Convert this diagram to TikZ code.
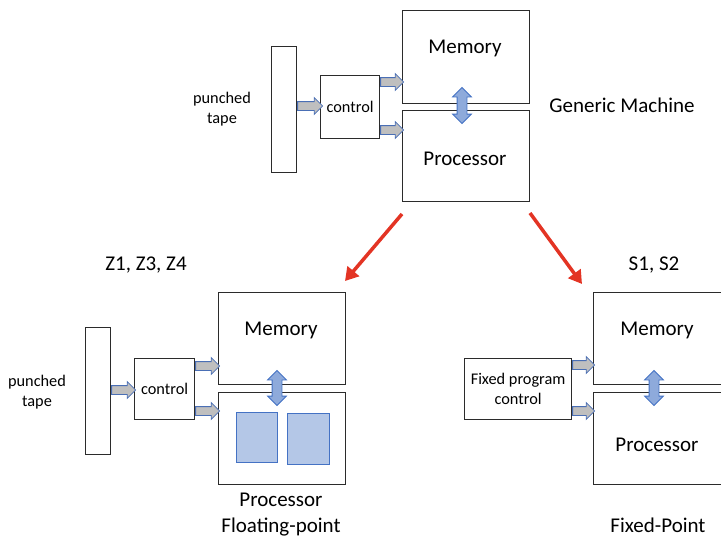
\documentclass[tikz,border=0pt]{standalone}
\usepackage{fontspec}
\setmainfont{Carlito}
\usetikzlibrary{shapes.arrows,arrows.meta}
\definecolor{boxline}{HTML}{2B2B2B}
\definecolor{arrowedge}{HTML}{4A6FB5}
\definecolor{arrowgray}{HTML}{BFBFBF}
\definecolor{dblfill}{HTML}{8EAADB}
\definecolor{dbledge}{HTML}{4472C4}
\definecolor{rectfill}{HTML}{B4C7E7}
\definecolor{redline}{HTML}{E33424}
\begin{document}
\begin{tikzpicture}[x=1pt,y=-1pt,
  box/.style={draw=boxline,line width=1.2pt,inner sep=0pt,anchor=north west},
  big/.style={font=\fontsize{21}{26}\selectfont,align=center,inner sep=0pt},
  small/.style={font=\fontsize{16.3}{20}\selectfont,align=center,inner sep=0pt},
  garrow/.style={single arrow,draw=arrowedge,fill=arrowgray,line width=0.8pt,
    single arrow head extend=4pt,inner xsep=0pt,inner ysep=4pt,anchor=tail,
    single arrow tip angle=90},
  darrow/.style={double arrow,draw=dbledge,fill=dblfill,line width=0.8pt,
    double arrow head extend=4.5pt,inner sep=4.5pt,
    shape border rotate=90,double arrow tip angle=90},
  fpbox/.style={draw=dbledge,fill=rectfill,line width=0.9pt,inner sep=0pt,anchor=north west},
  redarrow/.style={draw=redline,line width=3.5pt,-{Triangle[length=13pt,width=15pt]}}]
\useasboundingbox (0,0) rectangle (721,538);

% ---------- Generic machine (top) ----------
\node[box,minimum width=25,minimum height=126] (tapeA) at (271,46) {};
\node[box,minimum width=59,minimum height=63] (ctrlA) at (320,75) {};
\node[box,minimum width=127,minimum height=93] (memA) at (402,10) {};
\node[box,minimum width=127,minimum height=91] (procA) at (402,110) {};
\node[small] (ctrlAt) at (ctrlA.center) {control};
\node[big] (memAt) at (465,48) {Memory};
\node[big] (procAt) at (465,159) {Processor};
\node[small] (tapeAt) at (222,109) {punched\\tape};
\node[big] (genA) at (622,105) {Generic Machine};
\node[garrow,minimum height=25] (aA1) at (tapeA.east |- 0,106) {};
\node[garrow,minimum height=23] (aA2) at (ctrlA.east |- 0,82) {};
\node[garrow,minimum height=23] (aA3) at (ctrlA.east |- 0,130) {};
\node[darrow,minimum height=36] (dA) at (462,105.5) {};

% red arrows
\coordinate (r1s) at (402,214);
\coordinate (r1e) at (345,281);
\coordinate (r2s) at (530,213);
\coordinate (r2e) at (582,284);
\draw[redarrow] (r1s) -- (r1e);
\draw[redarrow] (r2s) -- (r2e);

% ---------- Z1, Z3, Z4 (bottom left) ----------
\node[big] (zt) at (146,265) {Z1, Z3, Z4};
\node[box,minimum width=25,minimum height=127] (tapeB) at (85,327) {};
\node[box,minimum width=60,minimum height=61] (ctrlB) at (134,358) {};
\node[box,minimum width=127,minimum height=92] (memB) at (218,292) {};
\node[box,minimum width=127,minimum height=92] (procB) at (218,392) {};
\node[small] (ctrlBt) at (ctrlB.center) {control};
\node[big] (memBt) at (281,330) {Memory};
\node[small] (tapeBt) at (37,392) {punched\\tape};
\node[big] (procBt) at (281,515) {Processor\\Floating-point};
\node[fpbox,minimum width=41,minimum height=50] (fp1) at (236,412) {};
\node[fpbox,minimum width=42,minimum height=51] (fp2) at (287,413) {};
\node[garrow,minimum height=24] (aB1) at (tapeB.east |- 0,390) {};
\node[garrow,minimum height=24] (aB2) at (ctrlB.east |- 0,366) {};
\node[garrow,minimum height=24] (aB3) at (ctrlB.east |- 0,411) {};
\node[darrow,minimum height=35] (dB) at (277,388) {};

% ---------- S1, S2 (bottom right) ----------
\node[big] (st) at (654,265) {S1, S2};
\node[box,minimum width=107,minimum height=61] (ctrlC) at (464,358) {};
\node[box,minimum width=130,minimum height=92] (memC) at (593,292) {};
\node[box,minimum width=130,minimum height=92] (procC) at (593,392) {};
\node[small] (ctrlCt) at (ctrlC.center) {Fixed program\\control};
\node[big] (memCt) at (657,330) {Memory};
\node[big] (procCt) at (657,445) {Processor};
\node[big] (fixt) at (658,525) {Fixed-Point};
\node[garrow,minimum height=22] (aC1) at (ctrlC.east |- 0,365) {};
\node[garrow,minimum height=22] (aC2) at (ctrlC.east |- 0,411) {};
\node[darrow,minimum height=35] (dC) at (654,388) {};
\end{tikzpicture}
\end{document}
